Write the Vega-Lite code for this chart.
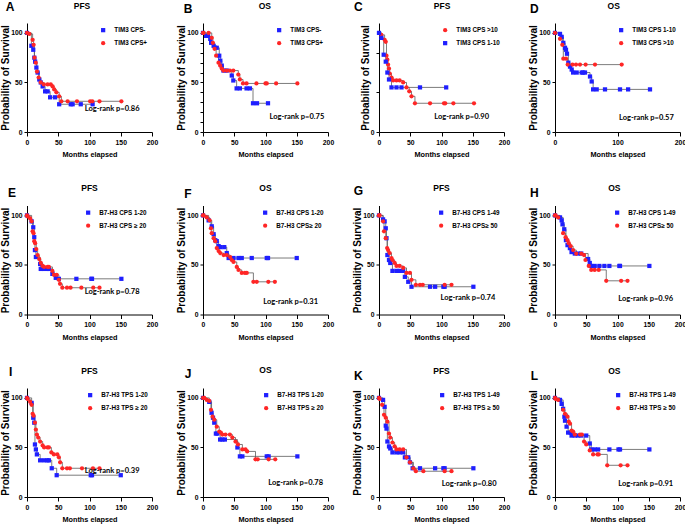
{
"$schema": "https://vega.github.io/schema/vega-lite/v6.json",
"padding": {"left": 0, "top": 1, "right": 0, "bottom": 0},
"columns": 4,
"spacing": {"row": 73.5, "column": 51},
"bounds": "flush",
"resolve": {"scale": {"color": "independent", "shape": "independent"}},
"config": {
 "view": {"stroke": null},
 "axis": {"grid": false, "domainColor": "#000", "tickColor": "#000", "labelColor": "#000", "titleColor": "#000", "labelFont": "Liberation Sans", "labelFontWeight": "bold", "labelFontSize": 6.8, "titleFont": "Liberation Sans", "titleFontWeight": "bold", "titleFontSize": 7.3, "domainWidth": 1, "tickWidth": 1, "labelFlush": false},
 "axisX": {"tickSize": 4, "labelPadding": 3, "titlePadding": 5},
 "axisY": {"tickSize": 3, "labelPadding": 2, "titlePadding": 0, "titleFontSize": 10},
 "legend": {"labelFont": "Liberation Sans", "labelFontSize": 6.3, "labelFontWeight": "bold", "labelColor": "#000", "symbolSize": 18, "rowPadding": 6, "labelOffset": 8, "padding": 0}
},
"concat": [
{
 "width": 125, "height": 109,
 "data": {"values": [
  {"g":"TIM3 CPS-","t":0,"s":100},{"g":"TIM3 CPS-","t":7,"s":87},{"g":"TIM3 CPS-","t":10,"s":83},{"g":"TIM3 CPS-","t":11.7,"s":75},{"g":"TIM3 CPS-","t":13,"s":71},{"g":"TIM3 CPS-","t":15,"s":65},{"g":"TIM3 CPS-","t":17,"s":60},{"g":"TIM3 CPS-","t":19.6,"s":53},{"g":"TIM3 CPS-","t":22,"s":50},{"g":"TIM3 CPS-","t":25,"s":46},{"g":"TIM3 CPS-","t":29,"s":41},{"g":"TIM3 CPS-","t":33,"s":41},{"g":"TIM3 CPS-","t":37,"s":35},{"g":"TIM3 CPS-","t":45,"s":35},{"g":"TIM3 CPS-","t":51.5,"s":28},{"g":"TIM3 CPS-","t":70,"s":28},{"g":"TIM3 CPS-","t":73,"s":28},{"g":"TIM3 CPS-","t":86,"s":28},{"g":"TIM3 CPS-","t":105,"s":28},
  {"g":"TIM3 CPS+","t":0,"s":100},{"g":"TIM3 CPS+","t":3.7,"s":99},{"g":"TIM3 CPS+","t":9,"s":93},{"g":"TIM3 CPS+","t":10.6,"s":88},{"g":"TIM3 CPS+","t":12,"s":75},{"g":"TIM3 CPS+","t":14,"s":70},{"g":"TIM3 CPS+","t":16,"s":61},{"g":"TIM3 CPS+","t":18.6,"s":55},{"g":"TIM3 CPS+","t":22,"s":50},{"g":"TIM3 CPS+","t":27,"s":48},{"g":"TIM3 CPS+","t":33,"s":48},{"g":"TIM3 CPS+","t":38,"s":48},{"g":"TIM3 CPS+","t":41,"s":46},{"g":"TIM3 CPS+","t":43.5,"s":43},{"g":"TIM3 CPS+","t":47,"s":40},{"g":"TIM3 CPS+","t":51.5,"s":36},{"g":"TIM3 CPS+","t":55,"s":31},{"g":"TIM3 CPS+","t":65,"s":31},{"g":"TIM3 CPS+","t":80,"s":31},{"g":"TIM3 CPS+","t":101,"s":31},{"g":"TIM3 CPS+","t":104.5,"s":31},{"g":"TIM3 CPS+","t":116,"s":31},{"g":"TIM3 CPS+","t":151,"s":31}
 ]},
 "layer": [
  {"mark": {"type": "line", "interpolate": "step-after", "color": "#5a5a5a", "strokeWidth": 0.8},
   "encoding": {"x": {"field": "t", "type": "quantitative", "scale": {"domain": [0, 200], "nice": false}, "axis": {"title": "Months elapsed"}},
    "y": {"field": "s", "type": "quantitative", "scale": {"domain": [0, 110], "nice": false}, "axis": {"title": "Probability of Survival", "values": [0, 50, 100]}},
    "detail": {"field": "g"}}},
  {"mark": {"type": "point", "filled": true, "opacity": 1, "size": 18},
   "encoding": {"x": {"field": "t", "type": "quantitative", "scale": {"domain": [0, 200], "nice": false}, "axis": {"title": "Months elapsed"}},
    "y": {"field": "s", "type": "quantitative", "scale": {"domain": [0, 110], "nice": false}, "axis": {"title": "Probability of Survival", "values": [0, 50, 100]}},
    "color": {"field": "g", "type": "nominal", "scale": {"domain": ["TIM3 CPS-", "TIM3 CPS+"], "range": ["#1f1fff", "#ff2626"]}, "legend": {"title": null, "orient": "top-right", "offset": 4, "encode": {"symbols": {"update": {"shape": {"signal": "datum.value === 'TIM3 CPS-' ? 'M-2.3,0H2.3M-1,-1H1V1H-1Z' : 'M-2.3,0H2.3M-1,0A1,1,0,1,1,1,0A1,1,0,1,1,-1,0Z'"}, "stroke": {"signal": "datum.value === 'TIM3 CPS-' ? '#1f1fff' : '#ff2626'"}, "strokeWidth": {"value": 1}}}}}},
    "shape": {"field": "g", "type": "nominal", "scale": {"domain": ["TIM3 CPS-", "TIM3 CPS+"], "range": ["square", "circle"]}, "legend": {"title": null, "orient": "top-right", "offset": 4, "encode": {"symbols": {"update": {"shape": {"signal": "datum.value === 'TIM3 CPS-' ? 'M-2.3,0H2.3M-1,-1H1V1H-1Z' : 'M-2.3,0H2.3M-1,0A1,1,0,1,1,1,0A1,1,0,1,1,-1,0Z'"}, "stroke": {"signal": "datum.value === 'TIM3 CPS-' ? '#1f1fff' : '#ff2626'"}, "strokeWidth": {"value": 1}}}}}}}},
  {"data": {"values": [{"txt": "Log-rank p=0.86"}]}, "mark": {"type": "text", "align": "right", "baseline": "middle", "font": "Lato", "fontSize": 7.5, "fontWeight": "bold", "color": "#000"}, "encoding": {"text": {"field": "txt"}, "x": {"datum": 180}, "y": {"datum": 23.5}}},
  {"data": {"values": [{"txt": "A"}]}, "mark": {"type": "text", "align": "center", "baseline": "middle", "font": "Liberation Sans", "fontSize": 12, "fontWeight": "bold", "color": "#000"}, "encoding": {"text": {"field": "txt"}, "x": {"datum": -27}, "y": {"datum": 126}}},
  {"data": {"values": [{"txt": "PFS"}]}, "mark": {"type": "text", "align": "center", "baseline": "middle", "font": "Liberation Sans", "fontSize": 8.5, "fontWeight": "bold", "color": "#000"}, "encoding": {"text": {"field": "txt"}, "x": {"datum": 88}, "y": {"datum": 127}}}
 ]
},
{
 "width": 125, "height": 109,
 "data": {"values": [
  {"g":"TIM3 CPS-","t":0,"s":100},{"g":"TIM3 CPS-","t":5,"s":97},{"g":"TIM3 CPS-","t":8,"s":97},{"g":"TIM3 CPS-","t":11.6,"s":94},{"g":"TIM3 CPS-","t":13,"s":90},{"g":"TIM3 CPS-","t":17,"s":87},{"g":"TIM3 CPS-","t":22,"s":85},{"g":"TIM3 CPS-","t":26,"s":77},{"g":"TIM3 CPS-","t":27.7,"s":72},{"g":"TIM3 CPS-","t":30,"s":67},{"g":"TIM3 CPS-","t":32.7,"s":62},{"g":"TIM3 CPS-","t":38,"s":62},{"g":"TIM3 CPS-","t":46,"s":57},{"g":"TIM3 CPS-","t":48.5,"s":52},{"g":"TIM3 CPS-","t":53.8,"s":44},{"g":"TIM3 CPS-","t":59,"s":44},{"g":"TIM3 CPS-","t":69.7,"s":44},{"g":"TIM3 CPS-","t":75,"s":44},{"g":"TIM3 CPS-","t":80,"s":29},{"g":"TIM3 CPS-","t":86.4,"s":29},{"g":"TIM3 CPS-","t":104,"s":29},
  {"g":"TIM3 CPS+","t":0,"s":100},{"g":"TIM3 CPS+","t":1,"s":100},{"g":"TIM3 CPS+","t":9,"s":100},{"g":"TIM3 CPS+","t":14,"s":95},{"g":"TIM3 CPS+","t":15.8,"s":90},{"g":"TIM3 CPS+","t":18.5,"s":84},{"g":"TIM3 CPS+","t":21,"s":77},{"g":"TIM3 CPS+","t":24.8,"s":70},{"g":"TIM3 CPS+","t":27.4,"s":67},{"g":"TIM3 CPS+","t":30,"s":64},{"g":"TIM3 CPS+","t":32.7,"s":62},{"g":"TIM3 CPS+","t":38,"s":62},{"g":"TIM3 CPS+","t":43,"s":62},{"g":"TIM3 CPS+","t":48.5,"s":62},{"g":"TIM3 CPS+","t":56.5,"s":58},{"g":"TIM3 CPS+","t":59,"s":53},{"g":"TIM3 CPS+","t":64,"s":49},{"g":"TIM3 CPS+","t":69.7,"s":49},{"g":"TIM3 CPS+","t":85.5,"s":49},{"g":"TIM3 CPS+","t":100,"s":49},{"g":"TIM3 CPS+","t":102,"s":49},{"g":"TIM3 CPS+","t":117,"s":49},{"g":"TIM3 CPS+","t":151,"s":49}
 ]},
 "layer": [
  {"mark": {"type": "line", "interpolate": "step-after", "color": "#5a5a5a", "strokeWidth": 0.8},
   "encoding": {"x": {"field": "t", "type": "quantitative", "scale": {"domain": [0, 200], "nice": false}, "axis": {"title": "Months elapsed", "values": [0, 50, 100, 150, 200]}},
    "y": {"field": "s", "type": "quantitative", "scale": {"domain": [0, 110], "nice": false}, "axis": {"title": "Probability of Survival", "values": [0,10,20,30,40,50,60,70,80,90,100], "labelExpr": "datum.value % 50 === 0 ? datum.label : ''"}},
    "detail": {"field": "g"}}},
  {"mark": {"type": "point", "filled": true, "opacity": 1, "size": 18},
   "encoding": {"x": {"field": "t", "type": "quantitative", "scale": {"domain": [0, 200], "nice": false}, "axis": {"title": "Months elapsed", "values": [0, 50, 100, 150, 200]}},
    "y": {"field": "s", "type": "quantitative", "scale": {"domain": [0, 110], "nice": false}, "axis": {"title": "Probability of Survival", "values": [0,10,20,30,40,50,60,70,80,90,100], "labelExpr": "datum.value % 50 === 0 ? datum.label : ''"}},
    "color": {"field": "g", "type": "nominal", "scale": {"domain": ["TIM3 CPS-", "TIM3 CPS+"], "range": ["#1f1fff", "#ff2626"]}, "legend": {"title": null, "orient": "top-right", "offset": 4, "encode": {"symbols": {"update": {"shape": {"signal": "datum.value === 'TIM3 CPS-' ? 'M-2.3,0H2.3M-1,-1H1V1H-1Z' : 'M-2.3,0H2.3M-1,0A1,1,0,1,1,1,0A1,1,0,1,1,-1,0Z'"}, "stroke": {"signal": "datum.value === 'TIM3 CPS-' ? '#1f1fff' : '#ff2626'"}, "strokeWidth": {"value": 1}}}}}},
    "shape": {"field": "g", "type": "nominal", "scale": {"domain": ["TIM3 CPS-", "TIM3 CPS+"], "range": ["square", "circle"]}, "legend": {"title": null, "orient": "top-right", "offset": 4, "encode": {"symbols": {"update": {"shape": {"signal": "datum.value === 'TIM3 CPS-' ? 'M-2.3,0H2.3M-1,-1H1V1H-1Z' : 'M-2.3,0H2.3M-1,0A1,1,0,1,1,1,0A1,1,0,1,1,-1,0Z'"}, "stroke": {"signal": "datum.value === 'TIM3 CPS-' ? '#1f1fff' : '#ff2626'"}, "strokeWidth": {"value": 1}}}}}}}},
  {"data": {"values": [{"txt": "Log-rank p=0.75"}]}, "mark": {"type": "text", "align": "right", "baseline": "middle", "font": "Lato", "fontSize": 7.5, "fontWeight": "bold", "color": "#000"}, "encoding": {"text": {"field": "txt"}, "x": {"datum": 194, "type": "quantitative", "scale": {"domain": [0, 200], "nice": false}, "axis": {"title": "Months elapsed", "values": [0, 50, 100, 150, 200]}}, "y": {"datum": 15, "type": "quantitative", "scale": {"domain": [0, 110], "nice": false}, "axis": {"title": "Probability of Survival", "values": [0,10,20,30,40,50,60,70,80,90,100], "labelExpr": "datum.value % 50 === 0 ? datum.label : ''"}}}},
  {"data": {"values": [{"txt": "B"}]}, "mark": {"type": "text", "align": "center", "baseline": "middle", "font": "Liberation Sans", "fontSize": 12, "fontWeight": "bold", "color": "#000"}, "encoding": {"text": {"field": "txt"}, "x": {"datum": -24, "type": "quantitative", "scale": {"domain": [0, 200], "nice": false}, "axis": {"title": "Months elapsed", "values": [0, 50, 100, 150, 200]}}, "y": {"datum": 124, "type": "quantitative", "scale": {"domain": [0, 110], "nice": false}, "axis": {"title": "Probability of Survival", "values": [0,10,20,30,40,50,60,70,80,90,100], "labelExpr": "datum.value % 50 === 0 ? datum.label : ''"}}}},
  {"data": {"values": [{"txt": "OS"}]}, "mark": {"type": "text", "align": "center", "baseline": "middle", "font": "Liberation Sans", "fontSize": 8.5, "fontWeight": "bold", "color": "#000"}, "encoding": {"text": {"field": "txt"}, "x": {"datum": 99, "type": "quantitative", "scale": {"domain": [0, 200], "nice": false}, "axis": {"title": "Months elapsed", "values": [0, 50, 100, 150, 200]}}, "y": {"datum": 127, "type": "quantitative", "scale": {"domain": [0, 110], "nice": false}, "axis": {"title": "Probability of Survival", "values": [0,10,20,30,40,50,60,70,80,90,100], "labelExpr": "datum.value % 50 === 0 ? datum.label : ''"}}}}
 ]
},
{
 "width": 125, "height": 109,
 "data": {"values": [
  {"g":"TIM3 CPS >10","t":0,"s":100},{"g":"TIM3 CPS >10","t":3.8,"s":98},{"g":"TIM3 CPS >10","t":9,"s":93},{"g":"TIM3 CPS >10","t":10.8,"s":91},{"g":"TIM3 CPS >10","t":12,"s":77},{"g":"TIM3 CPS >10","t":13.4,"s":73},{"g":"TIM3 CPS >10","t":14.5,"s":68},{"g":"TIM3 CPS >10","t":16,"s":64},{"g":"TIM3 CPS >10","t":17.2,"s":59},{"g":"TIM3 CPS >10","t":20,"s":55},{"g":"TIM3 CPS >10","t":22.6,"s":52},{"g":"TIM3 CPS >10","t":28,"s":52},{"g":"TIM3 CPS >10","t":33,"s":52},{"g":"TIM3 CPS >10","t":38.7,"s":50},{"g":"TIM3 CPS >10","t":44,"s":45},{"g":"TIM3 CPS >10","t":48.4,"s":41},{"g":"TIM3 CPS >10","t":52,"s":36},{"g":"TIM3 CPS >10","t":57.5,"s":29},{"g":"TIM3 CPS >10","t":81.7,"s":29},{"g":"TIM3 CPS >10","t":104,"s":29},{"g":"TIM3 CPS >10","t":106,"s":29},{"g":"TIM3 CPS >10","t":119,"s":29},{"g":"TIM3 CPS >10","t":152,"s":29},
  {"g":"TIM3 CPS 1-10","t":0,"s":100},{"g":"TIM3 CPS 1-10","t":3.8,"s":95},{"g":"TIM3 CPS 1-10","t":7.5,"s":78},{"g":"TIM3 CPS 1-10","t":10.8,"s":71},{"g":"TIM3 CPS 1-10","t":13.4,"s":60},{"g":"TIM3 CPS 1-10","t":16,"s":53},{"g":"TIM3 CPS 1-10","t":20,"s":45},{"g":"TIM3 CPS 1-10","t":28,"s":45},{"g":"TIM3 CPS 1-10","t":36,"s":45},{"g":"TIM3 CPS 1-10","t":65.6,"s":45},{"g":"TIM3 CPS 1-10","t":107.5,"s":45}
 ]},
 "layer": [
  {"mark": {"type": "line", "interpolate": "step-after", "color": "#5a5a5a", "strokeWidth": 0.8},
   "encoding": {"x": {"field": "t", "type": "quantitative", "scale": {"domain": [0, 200], "nice": false}, "axis": {"title": "Months elapsed"}},
    "y": {"field": "s", "type": "quantitative", "scale": {"domain": [0, 110], "nice": false}, "axis": {"title": "Probability of Survival", "values": [0,10,20,30,40,50,60,70,80,90,100], "labelExpr": "datum.value % 50 === 0 ? datum.label : ''"}},
    "detail": {"field": "g"}}},
  {"mark": {"type": "point", "filled": true, "opacity": 1, "size": 18},
   "encoding": {"x": {"field": "t", "type": "quantitative", "scale": {"domain": [0, 200], "nice": false}, "axis": {"title": "Months elapsed"}},
    "y": {"field": "s", "type": "quantitative", "scale": {"domain": [0, 110], "nice": false}, "axis": {"title": "Probability of Survival", "values": [0,10,20,30,40,50,60,70,80,90,100], "labelExpr": "datum.value % 50 === 0 ? datum.label : ''"}},
    "color": {"field": "g", "type": "nominal", "scale": {"domain": ["TIM3 CPS >10", "TIM3 CPS 1-10"], "range": ["#ff2626", "#1f1fff"]}, "legend": {"title": null, "orient": "top-right", "offset": 4, "encode": {"symbols": {"update": {"shape": {"signal": "datum.value === 'TIM3 CPS 1-10' ? 'M-2.3,0H2.3M-1,-1H1V1H-1Z' : 'M-2.3,0H2.3M-1,0A1,1,0,1,1,1,0A1,1,0,1,1,-1,0Z'"}, "stroke": {"signal": "datum.value === 'TIM3 CPS 1-10' ? '#1f1fff' : '#ff2626'"}, "strokeWidth": {"value": 1}}}}}},
    "shape": {"field": "g", "type": "nominal", "scale": {"domain": ["TIM3 CPS >10", "TIM3 CPS 1-10"], "range": ["circle", "square"]}, "legend": {"title": null, "orient": "top-right", "offset": 4, "encode": {"symbols": {"update": {"shape": {"signal": "datum.value === 'TIM3 CPS 1-10' ? 'M-2.3,0H2.3M-1,-1H1V1H-1Z' : 'M-2.3,0H2.3M-1,0A1,1,0,1,1,1,0A1,1,0,1,1,-1,0Z'"}, "stroke": {"signal": "datum.value === 'TIM3 CPS 1-10' ? '#1f1fff' : '#ff2626'"}, "strokeWidth": {"value": 1}}}}}}}},
  {"data": {"values": [{"txt": "Log-rank p=0.90"}]}, "mark": {"type": "text", "align": "right", "baseline": "middle", "font": "Lato", "fontSize": 7.5, "fontWeight": "bold", "color": "#000"}, "encoding": {"text": {"field": "txt"}, "x": {"datum": 176}, "y": {"datum": 15.5}}},
  {"data": {"values": [{"txt": "C"}]}, "mark": {"type": "text", "align": "center", "baseline": "middle", "font": "Liberation Sans", "fontSize": 12, "fontWeight": "bold", "color": "#000"}, "encoding": {"text": {"field": "txt"}, "x": {"datum": -33}, "y": {"datum": 126}}},
  {"data": {"values": [{"txt": "PFS"}]}, "mark": {"type": "text", "align": "center", "baseline": "middle", "font": "Liberation Sans", "fontSize": 8.5, "fontWeight": "bold", "color": "#000"}, "encoding": {"text": {"field": "txt"}, "x": {"datum": 101}, "y": {"datum": 127}}}
 ]
},
{
 "width": 125, "height": 109,
 "data": {"values": [
  {"g":"TIM3 CPS 1-10","t":0,"s":100},{"g":"TIM3 CPS 1-10","t":8,"s":99},{"g":"TIM3 CPS 1-10","t":10.7,"s":96},{"g":"TIM3 CPS 1-10","t":13.3,"s":90},{"g":"TIM3 CPS 1-10","t":16,"s":85},{"g":"TIM3 CPS 1-10","t":17.6,"s":83},{"g":"TIM3 CPS 1-10","t":19.2,"s":79},{"g":"TIM3 CPS 1-10","t":21.3,"s":70},{"g":"TIM3 CPS 1-10","t":24,"s":66},{"g":"TIM3 CPS 1-10","t":26.7,"s":63},{"g":"TIM3 CPS 1-10","t":29,"s":60},{"g":"TIM3 CPS 1-10","t":34.7,"s":60},{"g":"TIM3 CPS 1-10","t":42.7,"s":60},{"g":"TIM3 CPS 1-10","t":45,"s":60},{"g":"TIM3 CPS 1-10","t":48,"s":60},{"g":"TIM3 CPS 1-10","t":56,"s":56},{"g":"TIM3 CPS 1-10","t":58.7,"s":51},{"g":"TIM3 CPS 1-10","t":61,"s":43},{"g":"TIM3 CPS 1-10","t":66.7,"s":43},{"g":"TIM3 CPS 1-10","t":80,"s":43},{"g":"TIM3 CPS 1-10","t":104,"s":43},{"g":"TIM3 CPS 1-10","t":117,"s":43},{"g":"TIM3 CPS 1-10","t":152,"s":43},
  {"g":"TIM3 CPS >10","t":0,"s":100},{"g":"TIM3 CPS >10","t":8,"s":94},{"g":"TIM3 CPS >10","t":11.7,"s":88},{"g":"TIM3 CPS >10","t":13.3,"s":74},{"g":"TIM3 CPS >10","t":17.6,"s":74},{"g":"TIM3 CPS >10","t":20.3,"s":68},{"g":"TIM3 CPS >10","t":28,"s":68},{"g":"TIM3 CPS >10","t":33.6,"s":68},{"g":"TIM3 CPS >10","t":40,"s":68},{"g":"TIM3 CPS >10","t":49,"s":68},{"g":"TIM3 CPS >10","t":64,"s":68},{"g":"TIM3 CPS >10","t":106.7,"s":68}
 ]},
 "layer": [
  {"mark": {"type": "line", "interpolate": "step-after", "color": "#5a5a5a", "strokeWidth": 0.8},
   "encoding": {"x": {"field": "t", "type": "quantitative", "scale": {"domain": [0, 200], "nice": false}, "axis": {"title": "Months elapsed", "values": [0, 50, 100, 150, 200]}},
    "y": {"field": "s", "type": "quantitative", "scale": {"domain": [0, 110], "nice": false}, "axis": {"title": "Probability of Survival", "values": [0, 50, 100]}},
    "detail": {"field": "g"}}},
  {"mark": {"type": "point", "filled": true, "opacity": 1, "size": 18},
   "encoding": {"x": {"field": "t", "type": "quantitative", "scale": {"domain": [0, 200], "nice": false}, "axis": {"title": "Months elapsed", "values": [0, 50, 100, 150, 200]}},
    "y": {"field": "s", "type": "quantitative", "scale": {"domain": [0, 110], "nice": false}, "axis": {"title": "Probability of Survival", "values": [0, 50, 100]}},
    "color": {"field": "g", "type": "nominal", "scale": {"domain": ["TIM3 CPS 1-10", "TIM3 CPS >10"], "range": ["#1f1fff", "#ff2626"]}, "legend": {"title": null, "orient": "top-right", "offset": 4, "encode": {"symbols": {"update": {"shape": {"signal": "datum.value === 'TIM3 CPS 1-10' ? 'M-2.3,0H2.3M-1,-1H1V1H-1Z' : 'M-2.3,0H2.3M-1,0A1,1,0,1,1,1,0A1,1,0,1,1,-1,0Z'"}, "stroke": {"signal": "datum.value === 'TIM3 CPS 1-10' ? '#1f1fff' : '#ff2626'"}, "strokeWidth": {"value": 1}}}}}},
    "shape": {"field": "g", "type": "nominal", "scale": {"domain": ["TIM3 CPS 1-10", "TIM3 CPS >10"], "range": ["square", "circle"]}, "legend": {"title": null, "orient": "top-right", "offset": 4, "encode": {"symbols": {"update": {"shape": {"signal": "datum.value === 'TIM3 CPS 1-10' ? 'M-2.3,0H2.3M-1,-1H1V1H-1Z' : 'M-2.3,0H2.3M-1,0A1,1,0,1,1,1,0A1,1,0,1,1,-1,0Z'"}, "stroke": {"signal": "datum.value === 'TIM3 CPS 1-10' ? '#1f1fff' : '#ff2626'"}, "strokeWidth": {"value": 1}}}}}}}},
  {"data": {"values": [{"txt": "Log-rank p=0.57"}]}, "mark": {"type": "text", "align": "right", "baseline": "middle", "font": "Lato", "fontSize": 7.5, "fontWeight": "bold", "color": "#000"}, "encoding": {"text": {"field": "txt"}, "x": {"datum": 190}, "y": {"datum": 14}}},
  {"data": {"values": [{"txt": "D"}]}, "mark": {"type": "text", "align": "center", "baseline": "middle", "font": "Liberation Sans", "fontSize": 12, "fontWeight": "bold", "color": "#000"}, "encoding": {"text": {"field": "txt"}, "x": {"datum": -33}, "y": {"datum": 124.5}}},
  {"data": {"values": [{"txt": "OS"}]}, "mark": {"type": "text", "align": "center", "baseline": "middle", "font": "Liberation Sans", "fontSize": 8.5, "fontWeight": "bold", "color": "#000"}, "encoding": {"text": {"field": "txt"}, "x": {"datum": 94}, "y": {"datum": 127}}}
 ]
},
{
 "width": 125, "height": 109,
 "data": {"values": [
  {"g":"B7-H3 CPS 1-20","t":0,"s":100},{"g":"B7-H3 CPS 1-20","t":7.4,"s":94},{"g":"B7-H3 CPS 1-20","t":10,"s":88},{"g":"B7-H3 CPS 1-20","t":11.6,"s":78},{"g":"B7-H3 CPS 1-20","t":12.7,"s":65},{"g":"B7-H3 CPS 1-20","t":14.2,"s":58},{"g":"B7-H3 CPS 1-20","t":21,"s":51},{"g":"B7-H3 CPS 1-20","t":22,"s":46},{"g":"B7-H3 CPS 1-20","t":27.4,"s":46},{"g":"B7-H3 CPS 1-20","t":33,"s":46},{"g":"B7-H3 CPS 1-20","t":35,"s":46},{"g":"B7-H3 CPS 1-20","t":40.6,"s":41},{"g":"B7-H3 CPS 1-20","t":46,"s":37},{"g":"B7-H3 CPS 1-20","t":51,"s":36},{"g":"B7-H3 CPS 1-20","t":79,"s":36},{"g":"B7-H3 CPS 1-20","t":103,"s":36},{"g":"B7-H3 CPS 1-20","t":104,"s":36},{"g":"B7-H3 CPS 1-20","t":151,"s":36},
  {"g":"B7-H3 CPS ≥  20","t":0,"s":100},{"g":"B7-H3 CPS ≥  20","t":1,"s":99},{"g":"B7-H3 CPS ≥  20","t":5,"s":97},{"g":"B7-H3 CPS ≥  20","t":7.4,"s":94},{"g":"B7-H3 CPS ≥  20","t":9,"s":84},{"g":"B7-H3 CPS ≥  20","t":10.5,"s":82},{"g":"B7-H3 CPS ≥  20","t":11.6,"s":74},{"g":"B7-H3 CPS ≥  20","t":13,"s":72},{"g":"B7-H3 CPS ≥  20","t":14.8,"s":66},{"g":"B7-H3 CPS ≥  20","t":17,"s":60},{"g":"B7-H3 CPS ≥  20","t":19.5,"s":56},{"g":"B7-H3 CPS ≥  20","t":22,"s":52},{"g":"B7-H3 CPS ≥  20","t":25,"s":49},{"g":"B7-H3 CPS ≥  20","t":27.4,"s":48},{"g":"B7-H3 CPS ≥  20","t":33,"s":48},{"g":"B7-H3 CPS ≥  20","t":35,"s":48},{"g":"B7-H3 CPS ≥  20","t":40.6,"s":44},{"g":"B7-H3 CPS ≥  20","t":43,"s":40},{"g":"B7-H3 CPS ≥  20","t":47.5,"s":40},{"g":"B7-H3 CPS ≥  20","t":51,"s":35},{"g":"B7-H3 CPS ≥  20","t":52.8,"s":31},{"g":"B7-H3 CPS ≥  20","t":56.5,"s":27},{"g":"B7-H3 CPS ≥  20","t":64,"s":27},{"g":"B7-H3 CPS ≥  20","t":69.7,"s":27},{"g":"B7-H3 CPS ≥  20","t":87,"s":27},{"g":"B7-H3 CPS ≥  20","t":106,"s":27},{"g":"B7-H3 CPS ≥  20","t":116,"s":27}
 ]},
 "layer": [
  {"mark": {"type": "line", "interpolate": "step-after", "color": "#5a5a5a", "strokeWidth": 0.8},
   "encoding": {"x": {"field": "t", "type": "quantitative", "scale": {"domain": [0, 200], "nice": false}, "axis": {"title": "Months elapsed"}},
    "y": {"field": "s", "type": "quantitative", "scale": {"domain": [0, 110], "nice": false}, "axis": {"title": "Probability of Survival", "values": [0, 50, 100]}},
    "detail": {"field": "g"}}},
  {"mark": {"type": "point", "filled": true, "opacity": 1, "size": 18},
   "encoding": {"x": {"field": "t", "type": "quantitative", "scale": {"domain": [0, 200], "nice": false}, "axis": {"title": "Months elapsed"}},
    "y": {"field": "s", "type": "quantitative", "scale": {"domain": [0, 110], "nice": false}, "axis": {"title": "Probability of Survival", "values": [0, 50, 100]}},
    "color": {"field": "g", "type": "nominal", "scale": {"domain": ["B7-H3 CPS 1-20", "B7-H3 CPS ≥  20"], "range": ["#1f1fff", "#ff2626"]}, "legend": {"title": null, "orient": "top-right", "offset": 4, "encode": {"symbols": {"update": {"shape": {"signal": "datum.value === 'B7-H3 CPS 1-20' ? 'M-2.3,0H2.3M-1,-1H1V1H-1Z' : 'M-2.3,0H2.3M-1,0A1,1,0,1,1,1,0A1,1,0,1,1,-1,0Z'"}, "stroke": {"signal": "datum.value === 'B7-H3 CPS 1-20' ? '#1f1fff' : '#ff2626'"}, "strokeWidth": {"value": 1}}}}}},
    "shape": {"field": "g", "type": "nominal", "scale": {"domain": ["B7-H3 CPS 1-20", "B7-H3 CPS ≥  20"], "range": ["square", "circle"]}, "legend": {"title": null, "orient": "top-right", "offset": 4, "encode": {"symbols": {"update": {"shape": {"signal": "datum.value === 'B7-H3 CPS 1-20' ? 'M-2.3,0H2.3M-1,-1H1V1H-1Z' : 'M-2.3,0H2.3M-1,0A1,1,0,1,1,1,0A1,1,0,1,1,-1,0Z'"}, "stroke": {"signal": "datum.value === 'B7-H3 CPS 1-20' ? '#1f1fff' : '#ff2626'"}, "strokeWidth": {"value": 1}}}}}}}},
  {"data": {"values": [{"txt": "Log-rank p=0.78"}]}, "mark": {"type": "text", "align": "right", "baseline": "middle", "font": "Lato", "fontSize": 7.5, "fontWeight": "bold", "color": "#000"}, "encoding": {"text": {"field": "txt"}, "x": {"datum": 180}, "y": {"datum": 22.5}}},
  {"data": {"values": [{"txt": "E"}]}, "mark": {"type": "text", "align": "center", "baseline": "middle", "font": "Liberation Sans", "fontSize": 12, "fontWeight": "bold", "color": "#000"}, "encoding": {"text": {"field": "txt"}, "x": {"datum": -24}, "y": {"datum": 123}}},
  {"data": {"values": [{"txt": "PFS"}]}, "mark": {"type": "text", "align": "center", "baseline": "middle", "font": "Liberation Sans", "fontSize": 8.5, "fontWeight": "bold", "color": "#000"}, "encoding": {"text": {"field": "txt"}, "x": {"datum": 100}, "y": {"datum": 128}}}
 ]
},
{
 "width": 125, "height": 109,
 "data": {"values": [
  {"g":"B7-H3 CPS 1-20","t":0,"s":100},{"g":"B7-H3 CPS 1-20","t":9,"s":95},{"g":"B7-H3 CPS 1-20","t":14,"s":89},{"g":"B7-H3 CPS 1-20","t":17,"s":81},{"g":"B7-H3 CPS 1-20","t":19.6,"s":75},{"g":"B7-H3 CPS 1-20","t":22,"s":74},{"g":"B7-H3 CPS 1-20","t":25,"s":69},{"g":"B7-H3 CPS 1-20","t":27.6,"s":68},{"g":"B7-H3 CPS 1-20","t":34,"s":68},{"g":"B7-H3 CPS 1-20","t":38,"s":62},{"g":"B7-H3 CPS 1-20","t":41,"s":57},{"g":"B7-H3 CPS 1-20","t":48.8,"s":57},{"g":"B7-H3 CPS 1-20","t":56.8,"s":57},{"g":"B7-H3 CPS 1-20","t":62,"s":57},{"g":"B7-H3 CPS 1-20","t":78,"s":57},{"g":"B7-H3 CPS 1-20","t":102,"s":57},{"g":"B7-H3 CPS 1-20","t":104,"s":57},{"g":"B7-H3 CPS 1-20","t":150,"s":57},
  {"g":"B7-H3 CPS≥ 20","t":0,"s":100},{"g":"B7-H3 CPS≥ 20","t":1,"s":100},{"g":"B7-H3 CPS≥ 20","t":6,"s":98},{"g":"B7-H3 CPS≥ 20","t":10.6,"s":95},{"g":"B7-H3 CPS≥ 20","t":12.7,"s":87},{"g":"B7-H3 CPS≥ 20","t":14,"s":82},{"g":"B7-H3 CPS≥ 20","t":17,"s":77},{"g":"B7-H3 CPS≥ 20","t":19.6,"s":74},{"g":"B7-H3 CPS≥ 20","t":22,"s":67},{"g":"B7-H3 CPS≥ 20","t":25,"s":64},{"g":"B7-H3 CPS≥ 20","t":27.6,"s":62},{"g":"B7-H3 CPS≥ 20","t":33,"s":60},{"g":"B7-H3 CPS≥ 20","t":38,"s":60},{"g":"B7-H3 CPS≥ 20","t":43.5,"s":58},{"g":"B7-H3 CPS≥ 20","t":46,"s":55},{"g":"B7-H3 CPS≥ 20","t":48.8,"s":53},{"g":"B7-H3 CPS≥ 20","t":54,"s":48},{"g":"B7-H3 CPS≥ 20","t":56.8,"s":45},{"g":"B7-H3 CPS≥ 20","t":62,"s":42},{"g":"B7-H3 CPS≥ 20","t":67,"s":42},{"g":"B7-H3 CPS≥ 20","t":70,"s":42},{"g":"B7-H3 CPS≥ 20","t":80.6,"s":33},{"g":"B7-H3 CPS≥ 20","t":86,"s":33},{"g":"B7-H3 CPS≥ 20","t":104.5,"s":33},{"g":"B7-H3 CPS≥ 20","t":115,"s":33}
 ]},
 "layer": [
  {"mark": {"type": "line", "interpolate": "step-after", "color": "#5a5a5a", "strokeWidth": 0.8},
   "encoding": {"x": {"field": "t", "type": "quantitative", "scale": {"domain": [0, 200], "nice": false}, "axis": {"title": "Months elapsed"}},
    "y": {"field": "s", "type": "quantitative", "scale": {"domain": [0, 110], "nice": false}, "axis": {"title": "Probability of Survival", "values": [0, 50, 100]}},
    "detail": {"field": "g"}}},
  {"mark": {"type": "point", "filled": true, "opacity": 1, "size": 18},
   "encoding": {"x": {"field": "t", "type": "quantitative", "scale": {"domain": [0, 200], "nice": false}, "axis": {"title": "Months elapsed"}},
    "y": {"field": "s", "type": "quantitative", "scale": {"domain": [0, 110], "nice": false}, "axis": {"title": "Probability of Survival", "values": [0, 50, 100]}},
    "color": {"field": "g", "type": "nominal", "scale": {"domain": ["B7-H3 CPS 1-20", "B7-H3 CPS≥ 20"], "range": ["#1f1fff", "#ff2626"]}, "legend": {"title": null, "orient": "top-right", "offset": 4, "encode": {"symbols": {"update": {"shape": {"signal": "datum.value === 'B7-H3 CPS 1-20' ? 'M-2.3,0H2.3M-1,-1H1V1H-1Z' : 'M-2.3,0H2.3M-1,0A1,1,0,1,1,1,0A1,1,0,1,1,-1,0Z'"}, "stroke": {"signal": "datum.value === 'B7-H3 CPS 1-20' ? '#1f1fff' : '#ff2626'"}, "strokeWidth": {"value": 1}}}}}},
    "shape": {"field": "g", "type": "nominal", "scale": {"domain": ["B7-H3 CPS 1-20", "B7-H3 CPS≥ 20"], "range": ["square", "circle"]}, "legend": {"title": null, "orient": "top-right", "offset": 4, "encode": {"symbols": {"update": {"shape": {"signal": "datum.value === 'B7-H3 CPS 1-20' ? 'M-2.3,0H2.3M-1,-1H1V1H-1Z' : 'M-2.3,0H2.3M-1,0A1,1,0,1,1,1,0A1,1,0,1,1,-1,0Z'"}, "stroke": {"signal": "datum.value === 'B7-H3 CPS 1-20' ? '#1f1fff' : '#ff2626'"}, "strokeWidth": {"value": 1}}}}}}}},
  {"data": {"values": [{"txt": "Log-rank p=0.31"}]}, "mark": {"type": "text", "align": "right", "baseline": "middle", "font": "Lato", "fontSize": 7.5, "fontWeight": "bold", "color": "#000"}, "encoding": {"text": {"field": "txt"}, "x": {"datum": 184}, "y": {"datum": 13}}},
  {"data": {"values": [{"txt": "F"}]}, "mark": {"type": "text", "align": "center", "baseline": "middle", "font": "Liberation Sans", "fontSize": 12, "fontWeight": "bold", "color": "#000"}, "encoding": {"text": {"field": "txt"}, "x": {"datum": -24}, "y": {"datum": 122}}},
  {"data": {"values": [{"txt": "OS"}]}, "mark": {"type": "text", "align": "center", "baseline": "middle", "font": "Liberation Sans", "fontSize": 8.5, "fontWeight": "bold", "color": "#000"}, "encoding": {"text": {"field": "txt"}, "x": {"datum": 100}, "y": {"datum": 128}}}
 ]
},
{
 "width": 125, "height": 109,
 "data": {"values": [
  {"g":"B7-H3 CPS 1-49","t":0,"s":100},{"g":"B7-H3 CPS 1-49","t":6.5,"s":96},{"g":"B7-H3 CPS 1-49","t":9,"s":94},{"g":"B7-H3 CPS 1-49","t":10.8,"s":87},{"g":"B7-H3 CPS 1-49","t":12,"s":77},{"g":"B7-H3 CPS 1-49","t":13.4,"s":60},{"g":"B7-H3 CPS 1-49","t":16,"s":55},{"g":"B7-H3 CPS 1-49","t":18,"s":52},{"g":"B7-H3 CPS 1-49","t":21.5,"s":44},{"g":"B7-H3 CPS 1-49","t":28,"s":44},{"g":"B7-H3 CPS 1-49","t":33,"s":44},{"g":"B7-H3 CPS 1-49","t":38.7,"s":44},{"g":"B7-H3 CPS 1-49","t":41.4,"s":38},{"g":"B7-H3 CPS 1-49","t":46.8,"s":33},{"g":"B7-H3 CPS 1-49","t":52,"s":28},{"g":"B7-H3 CPS 1-49","t":81.7,"s":28},{"g":"B7-H3 CPS 1-49","t":89.8,"s":28},{"g":"B7-H3 CPS 1-49","t":103,"s":28},{"g":"B7-H3 CPS 1-49","t":105,"s":28},{"g":"B7-H3 CPS 1-49","t":151,"s":28},
  {"g":"B7-H3 CPS≥ 50","t":0,"s":100},{"g":"B7-H3 CPS≥ 50","t":1,"s":100},{"g":"B7-H3 CPS≥ 50","t":6.5,"s":94},{"g":"B7-H3 CPS≥ 50","t":8,"s":84},{"g":"B7-H3 CPS≥ 50","t":10.8,"s":77},{"g":"B7-H3 CPS≥ 50","t":13,"s":67},{"g":"B7-H3 CPS≥ 50","t":14.5,"s":65},{"g":"B7-H3 CPS≥ 50","t":17,"s":62},{"g":"B7-H3 CPS≥ 50","t":20,"s":57},{"g":"B7-H3 CPS≥ 50","t":21.5,"s":55},{"g":"B7-H3 CPS≥ 50","t":25,"s":52},{"g":"B7-H3 CPS≥ 50","t":28,"s":49},{"g":"B7-H3 CPS≥ 50","t":33,"s":49},{"g":"B7-H3 CPS≥ 50","t":38.7,"s":47},{"g":"B7-H3 CPS≥ 50","t":44,"s":42},{"g":"B7-H3 CPS≥ 50","t":49.5,"s":42},{"g":"B7-H3 CPS≥ 50","t":52,"s":35},{"g":"B7-H3 CPS≥ 50","t":59,"s":30},{"g":"B7-H3 CPS≥ 50","t":65.6,"s":30},{"g":"B7-H3 CPS≥ 50","t":70,"s":30},{"g":"B7-H3 CPS≥ 50","t":105,"s":30},{"g":"B7-H3 CPS≥ 50","t":116,"s":30}
 ]},
 "layer": [
  {"mark": {"type": "line", "interpolate": "step-after", "color": "#5a5a5a", "strokeWidth": 0.8},
   "encoding": {"x": {"field": "t", "type": "quantitative", "scale": {"domain": [0, 200], "nice": false}, "axis": {"title": "Months elapsed"}},
    "y": {"field": "s", "type": "quantitative", "scale": {"domain": [0, 110], "nice": false}, "axis": {"title": "Probability of Survival", "values": [0, 50, 100]}},
    "detail": {"field": "g"}}},
  {"mark": {"type": "point", "filled": true, "opacity": 1, "size": 18},
   "encoding": {"x": {"field": "t", "type": "quantitative", "scale": {"domain": [0, 200], "nice": false}, "axis": {"title": "Months elapsed"}},
    "y": {"field": "s", "type": "quantitative", "scale": {"domain": [0, 110], "nice": false}, "axis": {"title": "Probability of Survival", "values": [0, 50, 100]}},
    "color": {"field": "g", "type": "nominal", "scale": {"domain": ["B7-H3 CPS 1-49", "B7-H3 CPS≥ 50"], "range": ["#1f1fff", "#ff2626"]}, "legend": {"title": null, "orient": "top-right", "offset": 4, "encode": {"symbols": {"update": {"shape": {"signal": "datum.value === 'B7-H3 CPS 1-49' ? 'M-2.3,0H2.3M-1,-1H1V1H-1Z' : 'M-2.3,0H2.3M-1,0A1,1,0,1,1,1,0A1,1,0,1,1,-1,0Z'"}, "stroke": {"signal": "datum.value === 'B7-H3 CPS 1-49' ? '#1f1fff' : '#ff2626'"}, "strokeWidth": {"value": 1}}}}}},
    "shape": {"field": "g", "type": "nominal", "scale": {"domain": ["B7-H3 CPS 1-49", "B7-H3 CPS≥ 50"], "range": ["square", "circle"]}, "legend": {"title": null, "orient": "top-right", "offset": 4, "encode": {"symbols": {"update": {"shape": {"signal": "datum.value === 'B7-H3 CPS 1-49' ? 'M-2.3,0H2.3M-1,-1H1V1H-1Z' : 'M-2.3,0H2.3M-1,0A1,1,0,1,1,1,0A1,1,0,1,1,-1,0Z'"}, "stroke": {"signal": "datum.value === 'B7-H3 CPS 1-49' ? '#1f1fff' : '#ff2626'"}, "strokeWidth": {"value": 1}}}}}}}},
  {"data": {"values": [{"txt": "Log-rank p=0.74"}]}, "mark": {"type": "text", "align": "right", "baseline": "middle", "font": "Lato", "fontSize": 7.5, "fontWeight": "bold", "color": "#000"}, "encoding": {"text": {"field": "txt"}, "x": {"datum": 186}, "y": {"datum": 17}}},
  {"data": {"values": [{"txt": "G"}]}, "mark": {"type": "text", "align": "center", "baseline": "middle", "font": "Liberation Sans", "fontSize": 12, "fontWeight": "bold", "color": "#000"}, "encoding": {"text": {"field": "txt"}, "x": {"datum": -33}, "y": {"datum": 124.5}}},
  {"data": {"values": [{"txt": "PFS"}]}, "mark": {"type": "text", "align": "center", "baseline": "middle", "font": "Liberation Sans", "fontSize": 8.5, "fontWeight": "bold", "color": "#000"}, "encoding": {"text": {"field": "txt"}, "x": {"datum": 100}, "y": {"datum": 128}}}
 ]
},
{
 "width": 125, "height": 109,
 "data": {"values": [
  {"g":"B7-H3 CPS 1-49","t":0,"s":100},{"g":"B7-H3 CPS 1-49","t":8,"s":98},{"g":"B7-H3 CPS 1-49","t":10.6,"s":95},{"g":"B7-H3 CPS 1-49","t":12,"s":91},{"g":"B7-H3 CPS 1-49","t":14.8,"s":86},{"g":"B7-H3 CPS 1-49","t":17.5,"s":75},{"g":"B7-H3 CPS 1-49","t":20,"s":70},{"g":"B7-H3 CPS 1-49","t":23.8,"s":67},{"g":"B7-H3 CPS 1-49","t":26.5,"s":63},{"g":"B7-H3 CPS 1-49","t":31.7,"s":61.5},{"g":"B7-H3 CPS 1-49","t":37,"s":61.5},{"g":"B7-H3 CPS 1-49","t":42,"s":61.5},{"g":"B7-H3 CPS 1-49","t":53,"s":56},{"g":"B7-H3 CPS 1-49","t":55.6,"s":52},{"g":"B7-H3 CPS 1-49","t":58,"s":49},{"g":"B7-H3 CPS 1-49","t":63.5,"s":49},{"g":"B7-H3 CPS 1-49","t":71,"s":49},{"g":"B7-H3 CPS 1-49","t":79,"s":49},{"g":"B7-H3 CPS 1-49","t":87,"s":49},{"g":"B7-H3 CPS 1-49","t":103,"s":49},{"g":"B7-H3 CPS 1-49","t":104,"s":49},{"g":"B7-H3 CPS 1-49","t":151,"s":49},
  {"g":"B7-H3 CPS≥ 50","t":0,"s":100},{"g":"B7-H3 CPS≥ 50","t":1,"s":100},{"g":"B7-H3 CPS≥ 50","t":5,"s":98},{"g":"B7-H3 CPS≥ 50","t":13,"s":82},{"g":"B7-H3 CPS≥ 50","t":17,"s":78},{"g":"B7-H3 CPS≥ 50","t":20,"s":75},{"g":"B7-H3 CPS≥ 50","t":22,"s":72},{"g":"B7-H3 CPS≥ 50","t":25,"s":69},{"g":"B7-H3 CPS≥ 50","t":29,"s":65},{"g":"B7-H3 CPS≥ 50","t":34,"s":61.5},{"g":"B7-H3 CPS≥ 50","t":42,"s":61.5},{"g":"B7-H3 CPS≥ 50","t":46.5,"s":60},{"g":"B7-H3 CPS≥ 50","t":48.7,"s":55},{"g":"B7-H3 CPS≥ 50","t":54,"s":49},{"g":"B7-H3 CPS≥ 50","t":58,"s":45},{"g":"B7-H3 CPS≥ 50","t":63.5,"s":45},{"g":"B7-H3 CPS≥ 50","t":70,"s":45},{"g":"B7-H3 CPS≥ 50","t":82,"s":34},{"g":"B7-H3 CPS≥ 50","t":105.8,"s":34},{"g":"B7-H3 CPS≥ 50","t":116,"s":34}
 ]},
 "layer": [
  {"mark": {"type": "line", "interpolate": "step-after", "color": "#5a5a5a", "strokeWidth": 0.8},
   "encoding": {"x": {"field": "t", "type": "quantitative", "scale": {"domain": [0, 200], "nice": false}, "axis": {"title": "Months elapsed"}},
    "y": {"field": "s", "type": "quantitative", "scale": {"domain": [0, 110], "nice": false}, "axis": {"title": "Probability of Survival", "values": [0, 50, 100]}},
    "detail": {"field": "g"}}},
  {"mark": {"type": "point", "filled": true, "opacity": 1, "size": 18},
   "encoding": {"x": {"field": "t", "type": "quantitative", "scale": {"domain": [0, 200], "nice": false}, "axis": {"title": "Months elapsed"}},
    "y": {"field": "s", "type": "quantitative", "scale": {"domain": [0, 110], "nice": false}, "axis": {"title": "Probability of Survival", "values": [0, 50, 100]}},
    "color": {"field": "g", "type": "nominal", "scale": {"domain": ["B7-H3 CPS 1-49", "B7-H3 CPS≥ 50"], "range": ["#1f1fff", "#ff2626"]}, "legend": {"title": null, "orient": "top-right", "offset": 4, "encode": {"symbols": {"update": {"shape": {"signal": "datum.value === 'B7-H3 CPS 1-49' ? 'M-2.3,0H2.3M-1,-1H1V1H-1Z' : 'M-2.3,0H2.3M-1,0A1,1,0,1,1,1,0A1,1,0,1,1,-1,0Z'"}, "stroke": {"signal": "datum.value === 'B7-H3 CPS 1-49' ? '#1f1fff' : '#ff2626'"}, "strokeWidth": {"value": 1}}}}}},
    "shape": {"field": "g", "type": "nominal", "scale": {"domain": ["B7-H3 CPS 1-49", "B7-H3 CPS≥ 50"], "range": ["square", "circle"]}, "legend": {"title": null, "orient": "top-right", "offset": 4, "encode": {"symbols": {"update": {"shape": {"signal": "datum.value === 'B7-H3 CPS 1-49' ? 'M-2.3,0H2.3M-1,-1H1V1H-1Z' : 'M-2.3,0H2.3M-1,0A1,1,0,1,1,1,0A1,1,0,1,1,-1,0Z'"}, "stroke": {"signal": "datum.value === 'B7-H3 CPS 1-49' ? '#1f1fff' : '#ff2626'"}, "strokeWidth": {"value": 1}}}}}}}},
  {"data": {"values": [{"txt": "Log-rank p=0.96"}]}, "mark": {"type": "text", "align": "right", "baseline": "middle", "font": "Lato", "fontSize": 7.5, "fontWeight": "bold", "color": "#000"}, "encoding": {"text": {"field": "txt"}, "x": {"datum": 189}, "y": {"datum": 15.5}}},
  {"data": {"values": [{"txt": "H"}]}, "mark": {"type": "text", "align": "center", "baseline": "middle", "font": "Liberation Sans", "fontSize": 12, "fontWeight": "bold", "color": "#000"}, "encoding": {"text": {"field": "txt"}, "x": {"datum": -33}, "y": {"datum": 123}}},
  {"data": {"values": [{"txt": "OS"}]}, "mark": {"type": "text", "align": "center", "baseline": "middle", "font": "Liberation Sans", "fontSize": 8.5, "fontWeight": "bold", "color": "#000"}, "encoding": {"text": {"field": "txt"}, "x": {"datum": 95}, "y": {"datum": 128}}}
 ]
},
{
 "width": 125, "height": 109,
 "data": {"values": [
  {"g":"B7-H3 TPS 1-20","t":0,"s":100},{"g":"B7-H3 TPS 1-20","t":7.4,"s":95},{"g":"B7-H3 TPS 1-20","t":10,"s":80},{"g":"B7-H3 TPS 1-20","t":11.6,"s":75},{"g":"B7-H3 TPS 1-20","t":12.7,"s":53},{"g":"B7-H3 TPS 1-20","t":14.2,"s":48},{"g":"B7-H3 TPS 1-20","t":15.8,"s":43},{"g":"B7-H3 TPS 1-20","t":21,"s":37},{"g":"B7-H3 TPS 1-20","t":27.4,"s":37},{"g":"B7-H3 TPS 1-20","t":32.7,"s":37},{"g":"B7-H3 TPS 1-20","t":35,"s":37},{"g":"B7-H3 TPS 1-20","t":39.6,"s":29},{"g":"B7-H3 TPS 1-20","t":47.5,"s":22},{"g":"B7-H3 TPS 1-20","t":102,"s":22},{"g":"B7-H3 TPS 1-20","t":104,"s":22},{"g":"B7-H3 TPS 1-20","t":150,"s":22},
  {"g":"B7-H3 TPS ≥ 20","t":0,"s":100},{"g":"B7-H3 TPS ≥ 20","t":1,"s":99},{"g":"B7-H3 TPS ≥ 20","t":5,"s":96},{"g":"B7-H3 TPS ≥ 20","t":7.4,"s":93},{"g":"B7-H3 TPS ≥ 20","t":9,"s":84},{"g":"B7-H3 TPS ≥ 20","t":10.5,"s":82},{"g":"B7-H3 TPS ≥ 20","t":12.7,"s":75},{"g":"B7-H3 TPS ≥ 20","t":14.2,"s":68},{"g":"B7-H3 TPS ≥ 20","t":15.8,"s":63},{"g":"B7-H3 TPS ≥ 20","t":18,"s":60},{"g":"B7-H3 TPS ≥ 20","t":21,"s":56},{"g":"B7-H3 TPS ≥ 20","t":25,"s":52},{"g":"B7-H3 TPS ≥ 20","t":27.4,"s":50},{"g":"B7-H3 TPS ≥ 20","t":32.7,"s":50},{"g":"B7-H3 TPS ≥ 20","t":35,"s":50},{"g":"B7-H3 TPS ≥ 20","t":39,"s":45},{"g":"B7-H3 TPS ≥ 20","t":43,"s":43},{"g":"B7-H3 TPS ≥ 20","t":48.5,"s":43},{"g":"B7-H3 TPS ≥ 20","t":51,"s":40},{"g":"B7-H3 TPS ≥ 20","t":53,"s":35},{"g":"B7-H3 TPS ≥ 20","t":56.5,"s":29},{"g":"B7-H3 TPS ≥ 20","t":64,"s":29},{"g":"B7-H3 TPS ≥ 20","t":68.6,"s":29},{"g":"B7-H3 TPS ≥ 20","t":88,"s":29},{"g":"B7-H3 TPS ≥ 20","t":105.5,"s":29},{"g":"B7-H3 TPS ≥ 20","t":116,"s":29}
 ]},
 "layer": [
  {"mark": {"type": "line", "interpolate": "step-after", "color": "#5a5a5a", "strokeWidth": 0.8},
   "encoding": {"x": {"field": "t", "type": "quantitative", "scale": {"domain": [0, 200], "nice": false}, "axis": {"title": "Months elapsed"}},
    "y": {"field": "s", "type": "quantitative", "scale": {"domain": [0, 110], "nice": false}, "axis": {"title": "Probability of Survival", "values": [0, 50, 100]}},
    "detail": {"field": "g"}}},
  {"mark": {"type": "point", "filled": true, "opacity": 1, "size": 18},
   "encoding": {"x": {"field": "t", "type": "quantitative", "scale": {"domain": [0, 200], "nice": false}, "axis": {"title": "Months elapsed"}},
    "y": {"field": "s", "type": "quantitative", "scale": {"domain": [0, 110], "nice": false}, "axis": {"title": "Probability of Survival", "values": [0, 50, 100]}},
    "color": {"field": "g", "type": "nominal", "scale": {"domain": ["B7-H3 TPS 1-20", "B7-H3 TPS ≥ 20"], "range": ["#1f1fff", "#ff2626"]}, "legend": {"title": null, "orient": "top-right", "offset": 4, "encode": {"symbols": {"update": {"shape": {"signal": "datum.value === 'B7-H3 TPS 1-20' ? 'M-2.3,0H2.3M-1,-1H1V1H-1Z' : 'M-2.3,0H2.3M-1,0A1,1,0,1,1,1,0A1,1,0,1,1,-1,0Z'"}, "stroke": {"signal": "datum.value === 'B7-H3 TPS 1-20' ? '#1f1fff' : '#ff2626'"}, "strokeWidth": {"value": 1}}}}}},
    "shape": {"field": "g", "type": "nominal", "scale": {"domain": ["B7-H3 TPS 1-20", "B7-H3 TPS ≥ 20"], "range": ["square", "circle"]}, "legend": {"title": null, "orient": "top-right", "offset": 4, "encode": {"symbols": {"update": {"shape": {"signal": "datum.value === 'B7-H3 TPS 1-20' ? 'M-2.3,0H2.3M-1,-1H1V1H-1Z' : 'M-2.3,0H2.3M-1,0A1,1,0,1,1,1,0A1,1,0,1,1,-1,0Z'"}, "stroke": {"signal": "datum.value === 'B7-H3 TPS 1-20' ? '#1f1fff' : '#ff2626'"}, "strokeWidth": {"value": 1}}}}}}}},
  {"data": {"values": [{"txt": "Log-rank p=0.39"}]}, "mark": {"type": "text", "align": "right", "baseline": "middle", "font": "Lato", "fontSize": 7.5, "fontWeight": "bold", "color": "#000"}, "encoding": {"text": {"field": "txt"}, "x": {"datum": 180}, "y": {"datum": 26}}},
  {"data": {"values": [{"txt": "I"}]}, "mark": {"type": "text", "align": "center", "baseline": "middle", "font": "Liberation Sans", "fontSize": 12, "fontWeight": "bold", "color": "#000"}, "encoding": {"text": {"field": "txt"}, "x": {"datum": -26}, "y": {"datum": 126}}},
  {"data": {"values": [{"txt": "PFS"}]}, "mark": {"type": "text", "align": "center", "baseline": "middle", "font": "Liberation Sans", "fontSize": 8.5, "fontWeight": "bold", "color": "#000"}, "encoding": {"text": {"field": "txt"}, "x": {"datum": 100}, "y": {"datum": 127}}}
 ]
},
{
 "width": 125, "height": 109,
 "data": {"values": [
  {"g":"B7-H3 TPS 1-20","t":0,"s":100},{"g":"B7-H3 TPS 1-20","t":10,"s":96},{"g":"B7-H3 TPS 1-20","t":13.7,"s":85},{"g":"B7-H3 TPS 1-20","t":16,"s":80},{"g":"B7-H3 TPS 1-20","t":18,"s":75},{"g":"B7-H3 TPS 1-20","t":20.6,"s":64},{"g":"B7-H3 TPS 1-20","t":23,"s":64},{"g":"B7-H3 TPS 1-20","t":27.4,"s":58},{"g":"B7-H3 TPS 1-20","t":31,"s":58},{"g":"B7-H3 TPS 1-20","t":35,"s":58},{"g":"B7-H3 TPS 1-20","t":55,"s":50},{"g":"B7-H3 TPS 1-20","t":59,"s":41},{"g":"B7-H3 TPS 1-20","t":63,"s":41},{"g":"B7-H3 TPS 1-20","t":102,"s":41},{"g":"B7-H3 TPS 1-20","t":105,"s":41},{"g":"B7-H3 TPS 1-20","t":151,"s":41},
  {"g":"B7-H3 TPS ≥ 20","t":0,"s":100},{"g":"B7-H3 TPS ≥ 20","t":2,"s":100},{"g":"B7-H3 TPS ≥ 20","t":6,"s":98},{"g":"B7-H3 TPS ≥ 20","t":10,"s":97},{"g":"B7-H3 TPS ≥ 20","t":12.7,"s":88},{"g":"B7-H3 TPS ≥ 20","t":15.3,"s":81},{"g":"B7-H3 TPS ≥ 20","t":18,"s":78},{"g":"B7-H3 TPS ≥ 20","t":22,"s":71},{"g":"B7-H3 TPS ≥ 20","t":26,"s":66},{"g":"B7-H3 TPS ≥ 20","t":28.5,"s":65},{"g":"B7-H3 TPS ≥ 20","t":31,"s":63},{"g":"B7-H3 TPS ≥ 20","t":36,"s":63},{"g":"B7-H3 TPS ≥ 20","t":43,"s":63},{"g":"B7-H3 TPS ≥ 20","t":47,"s":60},{"g":"B7-H3 TPS ≥ 20","t":52,"s":56},{"g":"B7-H3 TPS ≥ 20","t":56,"s":53},{"g":"B7-H3 TPS ≥ 20","t":63,"s":48},{"g":"B7-H3 TPS ≥ 20","t":68,"s":48},{"g":"B7-H3 TPS ≥ 20","t":70.7,"s":46},{"g":"B7-H3 TPS ≥ 20","t":84,"s":38},{"g":"B7-H3 TPS ≥ 20","t":87.6,"s":38},{"g":"B7-H3 TPS ≥ 20","t":105,"s":38},{"g":"B7-H3 TPS ≥ 20","t":115.6,"s":38}
 ]},
 "layer": [
  {"mark": {"type": "line", "interpolate": "step-after", "color": "#5a5a5a", "strokeWidth": 0.8},
   "encoding": {"x": {"field": "t", "type": "quantitative", "scale": {"domain": [0, 200], "nice": false}, "axis": {"title": "Months elapsed"}},
    "y": {"field": "s", "type": "quantitative", "scale": {"domain": [0, 110], "nice": false}, "axis": {"title": "Probability of Survival", "values": [0, 50, 100]}},
    "detail": {"field": "g"}}},
  {"mark": {"type": "point", "filled": true, "opacity": 1, "size": 18},
   "encoding": {"x": {"field": "t", "type": "quantitative", "scale": {"domain": [0, 200], "nice": false}, "axis": {"title": "Months elapsed"}},
    "y": {"field": "s", "type": "quantitative", "scale": {"domain": [0, 110], "nice": false}, "axis": {"title": "Probability of Survival", "values": [0, 50, 100]}},
    "color": {"field": "g", "type": "nominal", "scale": {"domain": ["B7-H3 TPS 1-20", "B7-H3 TPS ≥ 20"], "range": ["#1f1fff", "#ff2626"]}, "legend": {"title": null, "orient": "top-right", "offset": 4, "encode": {"symbols": {"update": {"shape": {"signal": "datum.value === 'B7-H3 TPS 1-20' ? 'M-2.3,0H2.3M-1,-1H1V1H-1Z' : 'M-2.3,0H2.3M-1,0A1,1,0,1,1,1,0A1,1,0,1,1,-1,0Z'"}, "stroke": {"signal": "datum.value === 'B7-H3 TPS 1-20' ? '#1f1fff' : '#ff2626'"}, "strokeWidth": {"value": 1}}}}}},
    "shape": {"field": "g", "type": "nominal", "scale": {"domain": ["B7-H3 TPS 1-20", "B7-H3 TPS ≥ 20"], "range": ["square", "circle"]}, "legend": {"title": null, "orient": "top-right", "offset": 4, "encode": {"symbols": {"update": {"shape": {"signal": "datum.value === 'B7-H3 TPS 1-20' ? 'M-2.3,0H2.3M-1,-1H1V1H-1Z' : 'M-2.3,0H2.3M-1,0A1,1,0,1,1,1,0A1,1,0,1,1,-1,0Z'"}, "stroke": {"signal": "datum.value === 'B7-H3 TPS 1-20' ? '#1f1fff' : '#ff2626'"}, "strokeWidth": {"value": 1}}}}}}}},
  {"data": {"values": [{"txt": "Log-rank p=0.78"}]}, "mark": {"type": "text", "align": "right", "baseline": "middle", "font": "Lato", "fontSize": 7.5, "fontWeight": "bold", "color": "#000"}, "encoding": {"text": {"field": "txt"}, "x": {"datum": 192}, "y": {"datum": 14}}},
  {"data": {"values": [{"txt": "J"}]}, "mark": {"type": "text", "align": "center", "baseline": "middle", "font": "Liberation Sans", "fontSize": 12, "fontWeight": "bold", "color": "#000"}, "encoding": {"text": {"field": "txt"}, "x": {"datum": -24}, "y": {"datum": 124}}},
  {"data": {"values": [{"txt": "OS"}]}, "mark": {"type": "text", "align": "center", "baseline": "middle", "font": "Liberation Sans", "fontSize": 8.5, "fontWeight": "bold", "color": "#000"}, "encoding": {"text": {"field": "txt"}, "x": {"datum": 100}, "y": {"datum": 128}}}
 ]
},
{
 "width": 125, "height": 109,
 "data": {"values": [
  {"g":"B7-H3 TPS 1-49","t":0,"s":100},{"g":"B7-H3 TPS 1-49","t":6.5,"s":98},{"g":"B7-H3 TPS 1-49","t":9,"s":91},{"g":"B7-H3 TPS 1-49","t":10.8,"s":72},{"g":"B7-H3 TPS 1-49","t":12,"s":69},{"g":"B7-H3 TPS 1-49","t":13.4,"s":56},{"g":"B7-H3 TPS 1-49","t":16,"s":51},{"g":"B7-H3 TPS 1-49","t":18,"s":49},{"g":"B7-H3 TPS 1-49","t":21.5,"s":45},{"g":"B7-H3 TPS 1-49","t":28,"s":45},{"g":"B7-H3 TPS 1-49","t":33,"s":45},{"g":"B7-H3 TPS 1-49","t":38.7,"s":45},{"g":"B7-H3 TPS 1-49","t":41.4,"s":40},{"g":"B7-H3 TPS 1-49","t":46.8,"s":40},{"g":"B7-H3 TPS 1-49","t":49.5,"s":35},{"g":"B7-H3 TPS 1-49","t":53.8,"s":29},{"g":"B7-H3 TPS 1-49","t":65.6,"s":29},{"g":"B7-H3 TPS 1-49","t":89.8,"s":29},{"g":"B7-H3 TPS 1-49","t":103,"s":29},{"g":"B7-H3 TPS 1-49","t":105,"s":29},{"g":"B7-H3 TPS 1-49","t":151,"s":29},
  {"g":"B7-H3 TPS ≥ 50","t":0,"s":100},{"g":"B7-H3 TPS ≥ 50","t":1,"s":99},{"g":"B7-H3 TPS ≥ 50","t":5,"s":93},{"g":"B7-H3 TPS ≥ 50","t":8,"s":83},{"g":"B7-H3 TPS ≥ 50","t":10.8,"s":80},{"g":"B7-H3 TPS ≥ 50","t":13.4,"s":76},{"g":"B7-H3 TPS ≥ 50","t":16,"s":64},{"g":"B7-H3 TPS ≥ 50","t":18,"s":60},{"g":"B7-H3 TPS ≥ 50","t":21.5,"s":55},{"g":"B7-H3 TPS ≥ 50","t":25,"s":51},{"g":"B7-H3 TPS ≥ 50","t":28,"s":48},{"g":"B7-H3 TPS ≥ 50","t":33,"s":48},{"g":"B7-H3 TPS ≥ 50","t":38.7,"s":48},{"g":"B7-H3 TPS ≥ 50","t":44,"s":40},{"g":"B7-H3 TPS ≥ 50","t":49.5,"s":35},{"g":"B7-H3 TPS ≥ 50","t":55,"s":29},{"g":"B7-H3 TPS ≥ 50","t":59,"s":26},{"g":"B7-H3 TPS ≥ 50","t":71,"s":26},{"g":"B7-H3 TPS ≥ 50","t":105,"s":26},{"g":"B7-H3 TPS ≥ 50","t":116,"s":26}
 ]},
 "layer": [
  {"mark": {"type": "line", "interpolate": "step-after", "color": "#5a5a5a", "strokeWidth": 0.8},
   "encoding": {"x": {"field": "t", "type": "quantitative", "scale": {"domain": [0, 200], "nice": false}, "axis": {"title": "Months elapsed"}},
    "y": {"field": "s", "type": "quantitative", "scale": {"domain": [0, 110], "nice": false}, "axis": {"title": "Probability of Survival", "values": [0, 50, 100]}},
    "detail": {"field": "g"}}},
  {"mark": {"type": "point", "filled": true, "opacity": 1, "size": 18},
   "encoding": {"x": {"field": "t", "type": "quantitative", "scale": {"domain": [0, 200], "nice": false}, "axis": {"title": "Months elapsed"}},
    "y": {"field": "s", "type": "quantitative", "scale": {"domain": [0, 110], "nice": false}, "axis": {"title": "Probability of Survival", "values": [0, 50, 100]}},
    "color": {"field": "g", "type": "nominal", "scale": {"domain": ["B7-H3 TPS 1-49", "B7-H3 TPS ≥ 50"], "range": ["#1f1fff", "#ff2626"]}, "legend": {"title": null, "orient": "top-right", "offset": 4, "encode": {"symbols": {"update": {"shape": {"signal": "datum.value === 'B7-H3 TPS 1-49' ? 'M-2.3,0H2.3M-1,-1H1V1H-1Z' : 'M-2.3,0H2.3M-1,0A1,1,0,1,1,1,0A1,1,0,1,1,-1,0Z'"}, "stroke": {"signal": "datum.value === 'B7-H3 TPS 1-49' ? '#1f1fff' : '#ff2626'"}, "strokeWidth": {"value": 1}}}}}},
    "shape": {"field": "g", "type": "nominal", "scale": {"domain": ["B7-H3 TPS 1-49", "B7-H3 TPS ≥ 50"], "range": ["square", "circle"]}, "legend": {"title": null, "orient": "top-right", "offset": 4, "encode": {"symbols": {"update": {"shape": {"signal": "datum.value === 'B7-H3 TPS 1-49' ? 'M-2.3,0H2.3M-1,-1H1V1H-1Z' : 'M-2.3,0H2.3M-1,0A1,1,0,1,1,1,0A1,1,0,1,1,-1,0Z'"}, "stroke": {"signal": "datum.value === 'B7-H3 TPS 1-49' ? '#1f1fff' : '#ff2626'"}, "strokeWidth": {"value": 1}}}}}}}},
  {"data": {"values": [{"txt": "Log-rank p=0.80"}]}, "mark": {"type": "text", "align": "right", "baseline": "middle", "font": "Lato", "fontSize": 7.5, "fontWeight": "bold", "color": "#000"}, "encoding": {"text": {"field": "txt"}, "x": {"datum": 188}, "y": {"datum": 13.5}}},
  {"data": {"values": [{"txt": "K"}]}, "mark": {"type": "text", "align": "center", "baseline": "middle", "font": "Liberation Sans", "fontSize": 12, "fontWeight": "bold", "color": "#000"}, "encoding": {"text": {"field": "txt"}, "x": {"datum": -33}, "y": {"datum": 122.5}}},
  {"data": {"values": [{"txt": "PFS"}]}, "mark": {"type": "text", "align": "center", "baseline": "middle", "font": "Liberation Sans", "fontSize": 8.5, "fontWeight": "bold", "color": "#000"}, "encoding": {"text": {"field": "txt"}, "x": {"datum": 100}, "y": {"datum": 127}}}
 ]
},
{
 "width": 125, "height": 109,
 "data": {"values": [
  {"g":"B7-H3 TPS 1-49","t":0,"s":100},{"g":"B7-H3 TPS 1-49","t":8,"s":98},{"g":"B7-H3 TPS 1-49","t":10.6,"s":94},{"g":"B7-H3 TPS 1-49","t":13,"s":89},{"g":"B7-H3 TPS 1-49","t":15,"s":81},{"g":"B7-H3 TPS 1-49","t":16,"s":77},{"g":"B7-H3 TPS 1-49","t":18.5,"s":71},{"g":"B7-H3 TPS 1-49","t":21,"s":65},{"g":"B7-H3 TPS 1-49","t":25,"s":65},{"g":"B7-H3 TPS 1-49","t":26.5,"s":62},{"g":"B7-H3 TPS 1-49","t":31.7,"s":62},{"g":"B7-H3 TPS 1-49","t":37,"s":62},{"g":"B7-H3 TPS 1-49","t":42,"s":62},{"g":"B7-H3 TPS 1-49","t":50,"s":62},{"g":"B7-H3 TPS 1-49","t":55.6,"s":54},{"g":"B7-H3 TPS 1-49","t":58,"s":48},{"g":"B7-H3 TPS 1-49","t":63.5,"s":48},{"g":"B7-H3 TPS 1-49","t":69,"s":48},{"g":"B7-H3 TPS 1-49","t":87,"s":48},{"g":"B7-H3 TPS 1-49","t":101.6,"s":48},{"g":"B7-H3 TPS 1-49","t":104,"s":48},{"g":"B7-H3 TPS 1-49","t":151,"s":48},
  {"g":"B7-H3 TPS ≥ 50","t":0,"s":100},{"g":"B7-H3 TPS ≥ 50","t":1,"s":99},{"g":"B7-H3 TPS ≥ 50","t":5,"s":98},{"g":"B7-H3 TPS ≥ 50","t":13,"s":88},{"g":"B7-H3 TPS ≥ 50","t":16,"s":84},{"g":"B7-H3 TPS ≥ 50","t":20,"s":81},{"g":"B7-H3 TPS ≥ 50","t":22,"s":76},{"g":"B7-H3 TPS ≥ 50","t":24,"s":74},{"g":"B7-H3 TPS ≥ 50","t":26.5,"s":67},{"g":"B7-H3 TPS ≥ 50","t":29,"s":66},{"g":"B7-H3 TPS ≥ 50","t":31.7,"s":63},{"g":"B7-H3 TPS ≥ 50","t":40,"s":63},{"g":"B7-H3 TPS ≥ 50","t":43,"s":63},{"g":"B7-H3 TPS ≥ 50","t":46.5,"s":56},{"g":"B7-H3 TPS ≥ 50","t":50,"s":53},{"g":"B7-H3 TPS ≥ 50","t":55.6,"s":47},{"g":"B7-H3 TPS ≥ 50","t":61,"s":43},{"g":"B7-H3 TPS ≥ 50","t":68,"s":43},{"g":"B7-H3 TPS ≥ 50","t":70,"s":43},{"g":"B7-H3 TPS ≥ 50","t":83.6,"s":32},{"g":"B7-H3 TPS ≥ 50","t":105,"s":32},{"g":"B7-H3 TPS ≥ 50","t":116,"s":32}
 ]},
 "layer": [
  {"mark": {"type": "line", "interpolate": "step-after", "color": "#5a5a5a", "strokeWidth": 0.8},
   "encoding": {"x": {"field": "t", "type": "quantitative", "scale": {"domain": [0, 200], "nice": false}, "axis": {"title": "Months elapsed"}},
    "y": {"field": "s", "type": "quantitative", "scale": {"domain": [0, 110], "nice": false}, "axis": {"title": "Probability of Survival", "values": [0, 50, 100]}},
    "detail": {"field": "g"}}},
  {"mark": {"type": "point", "filled": true, "opacity": 1, "size": 18},
   "encoding": {"x": {"field": "t", "type": "quantitative", "scale": {"domain": [0, 200], "nice": false}, "axis": {"title": "Months elapsed"}},
    "y": {"field": "s", "type": "quantitative", "scale": {"domain": [0, 110], "nice": false}, "axis": {"title": "Probability of Survival", "values": [0, 50, 100]}},
    "color": {"field": "g", "type": "nominal", "scale": {"domain": ["B7-H3 TPS 1-49", "B7-H3 TPS ≥ 50"], "range": ["#1f1fff", "#ff2626"]}, "legend": {"title": null, "orient": "top-right", "offset": 4, "encode": {"symbols": {"update": {"shape": {"signal": "datum.value === 'B7-H3 TPS 1-49' ? 'M-2.3,0H2.3M-1,-1H1V1H-1Z' : 'M-2.3,0H2.3M-1,0A1,1,0,1,1,1,0A1,1,0,1,1,-1,0Z'"}, "stroke": {"signal": "datum.value === 'B7-H3 TPS 1-49' ? '#1f1fff' : '#ff2626'"}, "strokeWidth": {"value": 1}}}}}},
    "shape": {"field": "g", "type": "nominal", "scale": {"domain": ["B7-H3 TPS 1-49", "B7-H3 TPS ≥ 50"], "range": ["square", "circle"]}, "legend": {"title": null, "orient": "top-right", "offset": 4, "encode": {"symbols": {"update": {"shape": {"signal": "datum.value === 'B7-H3 TPS 1-49' ? 'M-2.3,0H2.3M-1,-1H1V1H-1Z' : 'M-2.3,0H2.3M-1,0A1,1,0,1,1,1,0A1,1,0,1,1,-1,0Z'"}, "stroke": {"signal": "datum.value === 'B7-H3 TPS 1-49' ? '#1f1fff' : '#ff2626'"}, "strokeWidth": {"value": 1}}}}}}}},
  {"data": {"values": [{"txt": "Log-rank p=0.91"}]}, "mark": {"type": "text", "align": "right", "baseline": "middle", "font": "Lato", "fontSize": 7.5, "fontWeight": "bold", "color": "#000"}, "encoding": {"text": {"field": "txt"}, "x": {"datum": 189}, "y": {"datum": 13.5}}},
  {"data": {"values": [{"txt": "L"}]}, "mark": {"type": "text", "align": "center", "baseline": "middle", "font": "Liberation Sans", "fontSize": 12, "fontWeight": "bold", "color": "#000"}, "encoding": {"text": {"field": "txt"}, "x": {"datum": -33}, "y": {"datum": 122.5}}},
  {"data": {"values": [{"txt": "OS"}]}, "mark": {"type": "text", "align": "center", "baseline": "middle", "font": "Liberation Sans", "fontSize": 8.5, "fontWeight": "bold", "color": "#000"}, "encoding": {"text": {"field": "txt"}, "x": {"datum": 95}, "y": {"datum": 127}}}
 ]
}
]
}
